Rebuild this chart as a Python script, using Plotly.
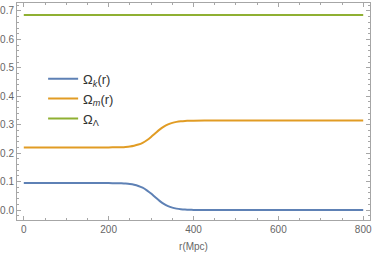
import plotly.graph_objects as go

r = [0, 100, 200, 220, 230, 240, 250, 260, 270, 280, 290, 300, 310, 320, 330,
     340, 350, 360, 370, 380, 390, 400, 450, 500, 600, 700, 800]
omega_k = [0.095, 0.095, 0.0947, 0.0943, 0.0938, 0.0929, 0.0914, 0.0888, 0.0847,
           0.0785, 0.0694, 0.0579, 0.0449, 0.0322, 0.0216, 0.0137, 0.0084, 0.005,
           0.0029, 0.0017, 0.001, 0.0006, 0.0, 0.0, 0.0, 0.0, 0.0]
omega_m = [0.22, 0.22, 0.2203, 0.2207, 0.2212, 0.2221, 0.2236, 0.2262, 0.2303,
           0.2365, 0.2456, 0.2571, 0.2701, 0.2828, 0.2934, 0.3013, 0.3066, 0.31,
           0.3121, 0.3133, 0.314, 0.3144, 0.315, 0.315, 0.315, 0.315, 0.315]
omega_l = [0.686] * len(r)

names = ["Ω<sub><i>k</i></sub>(r)", "Ω<sub><i>m</i></sub>(r)", "Ω<sub>Λ</sub>"]
colors = ["#5E81B5", "#E19C24", "#8FB032"]
series = [omega_k, omega_m, omega_l]

x_ticks = [0, 200, 400, 600, 800]
y_ticks = [0.0, 0.1, 0.2, 0.3, 0.4, 0.5, 0.6, 0.7]

FONT = "Liberation Sans, Arial, sans-serif"

fig = go.Figure()
for nm, c, ys in zip(names, colors, series):
    fig.add_trace(go.Scatter(x=r, y=ys, mode="lines", name=nm,
                             line=dict(color=c, width=2, shape="spline", smoothing=0.6)))

axis_common = dict(
    showgrid=False, zeroline=False, showline=True, linecolor="#a6a6a6", linewidth=1,
    mirror="ticks", ticks="inside", ticklen=4, tickcolor="#a6a6a6",
    tickfont=dict(family=FONT, size=10, color="#666666"),
)

fig.update_xaxes(range=[-16, 816], tickvals=x_ticks, ticktext=[str(v) for v in x_ticks],
                 title=dict(text="r(Mpc)", standoff=8,
                            font=dict(family=FONT, size=10, color="#666666")),
                 minor=dict(ticks="inside", ticklen=2, dtick=50, tick0=0, tickcolor="#a6a6a6"),
                 **axis_common)
fig.update_yaxes(range=[-0.035, 0.728], tickvals=y_ticks, ticktext=[f"{v:.1f}" for v in y_ticks],
                 minor=dict(ticks="inside", ticklen=2, dtick=0.02, tick0=0, tickcolor="#a6a6a6"),
                 **axis_common)

fig.update_layout(
    width=374, height=253,
    margin=dict(l=17, r=4, t=3, b=33, autoexpand=False),
    paper_bgcolor="white", plot_bgcolor="white",
    showlegend=True,
    legend=dict(x=0.074, y=0.72, xanchor="left", yanchor="top", bgcolor="rgba(0,0,0,0)",
                font=dict(family=FONT, size=13, color="#333333"),
                tracegroupgap=0),
)

fig.write_html("out.html", config={"displayModeBar": False},
               post_script="document.body.style.margin='0';document.body.style.overflow='hidden';")
